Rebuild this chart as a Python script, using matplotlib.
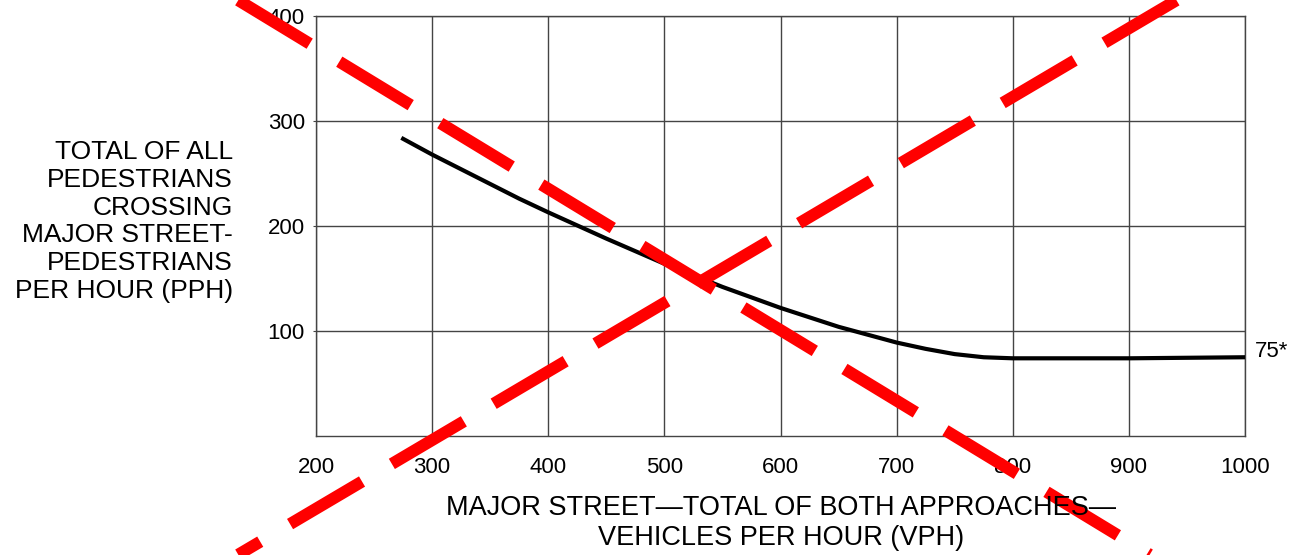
import matplotlib
matplotlib.use("Agg")
import matplotlib.pyplot as plt

plt.rcParams['font.family'] = ['Liberation Sans', 'DejaVu Sans']

# Pedestrian volume curve
vph = [275, 300, 325, 350, 375, 400, 450, 500, 550, 600, 650, 700, 725, 750, 775, 800, 900, 1000]
pph = [283, 268, 254, 240, 226, 213, 188, 164, 142, 122, 104, 89, 83, 78, 75, 74, 74, 75]

x_ticks = [200, 300, 400, 500, 600, 700, 800, 900, 1000]
y_ticks = [100, 200, 300, 400]

# Red "crossed out" overlay, in data units (runs past the axes)
cross1_x = [133, 918]
cross1_y = [415, -113]
cross2_x = [941, 133]
cross2_y = [415, -113]

y_label = "TOTAL OF ALL\nPEDESTRIANS\nCROSSING\nMAJOR STREET-\nPEDESTRIANS\nPER HOUR (PPH)"
x_label = "MAJOR STREET\u2014TOTAL OF BOTH APPROACHES\u2014\nVEHICLES PER HOUR (VPH)"

fig = plt.figure(figsize=(12.99, 5.55), dpi=100)
ax = fig.add_axes([0.2433, 0.2144, 0.7151, 0.7568])

ax.plot(vph, pph, color='black', linewidth=3, zorder=3)

ax.set_xlim(200, 1000)
ax.set_ylim(0, 400)
ax.set_xticks(x_ticks)
ax.set_yticks(y_ticks)
ax.grid(True, color='#444444', linewidth=1.0)
for s in ax.spines.values():
    s.set_color('#444444')
    s.set_linewidth(1.0)
ax.tick_params(axis='x', length=0, pad=15, labelsize=16)
ax.tick_params(axis='y', length=2, pad=6, labelsize=16, color='#444444')

ax.annotate("75*", xy=(1000, 75), xytext=(7, 4), textcoords='offset points',
            va='center', ha='left', fontsize=16, annotation_clip=False)

fig.text(0.1794, 0.601, y_label, ha='right', va='center', fontsize=19, linespacing=1.2)
fig.text(0.601, 0.0568, x_label, ha='center', va='center', fontsize=19.5, linespacing=1.2)

# red dashed X drawn over everything
for cx, cy in [(cross1_x, cross1_y), (cross2_x, cross2_y)]:
    ax.plot(cx, cy, color='#ff0000', linewidth=8.6, linestyle=(0, (7, 2.9)),
            solid_capstyle='butt', dash_capstyle='butt', clip_on=False, zorder=5)

fig.savefig("out.png", dpi=100)
